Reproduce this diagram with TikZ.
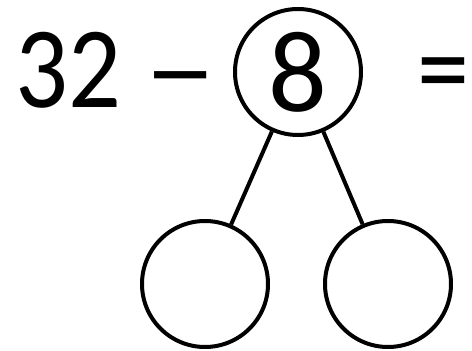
\documentclass[tikz,border=0pt]{standalone}
\usepackage{fontspec}
\setmainfont{Carlito}
\usepackage{tikz}
\usetikzlibrary{positioning}

\begin{document}
\begin{tikzpicture}[x=1pt, y=1pt,
  ring/.style={draw, circle, line width=4pt, minimum size=126pt, inner sep=0pt},
  bigfont/.style={font=\fontsize{116}{116}\selectfont},
  big/.style={bigfont, inner sep=0pt, xscale=0.9},
  stem/.style={line width=4pt}]
\useasboundingbox (0,0) rectangle (472,351);
% equation
\node[big, anchor=base west] (lhs) at (15,243) {32};
\node[big, anchor=base, xscale=0.68] (minus) at (181,243) {\char"2014};
\node[ring, bigfont] (whole) at (298,279) {8};
\node[big, anchor=base] (eq) at (443,243) {=};
% part circles
\node[ring] (partL) at (205,67) {};
\node[ring] (partR) at (388,67) {};
\draw[stem] (whole) -- (partL);
\draw[stem] (whole) -- (partR);
\end{tikzpicture}
\end{document}
